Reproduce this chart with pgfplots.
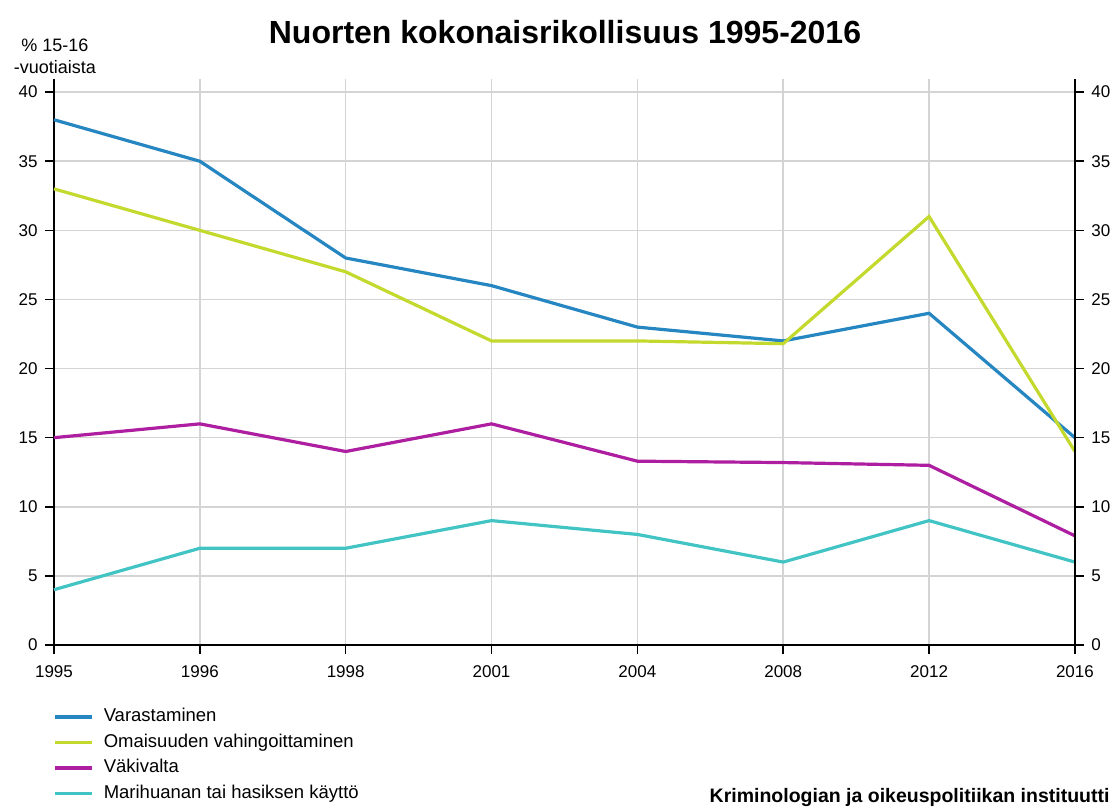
\documentclass[border=0pt]{standalone}
\usepackage{pgfplots}
\pgfplotsset{compat=1.18}
\usepackage{fontspec}
\setmainfont{Liberation Sans}
\definecolor{cblue}{RGB}{38,134,194}
\definecolor{cgreen}{RGB}{196,217,45}
\definecolor{cmag}{RGB}{174,30,160}
\definecolor{ccyan}{RGB}{66,196,196}
\begin{document}
\begin{tikzpicture}
\path[use as bounding box] (-54pt,-162pt) rectangle (1062pt,645pt);
\pgfplotsset{
  base/.style={
    at={(0pt,0pt)}, anchor=south west,
    scale only axis, width=1021pt, height=566pt,
    xmin=0, xmax=7, ymin=0, ymax=40.95,
    ytick={0,5,...,40},
    axis line style={line width=2pt, -},
    tick align=outside, major tick length=9pt,
    tick style={line width=1.5pt, black},
    ticklabel style={font=\fontsize{17}{19}\selectfont},
    /pgf/number format/assume math mode=true,
    clip=false,
  }
}
\begin{axis}[base,
  xtick={0,...,7},
  xticklabels={1995,1996,1998,2001,2004,2008,2012,2016},
  xticklabel style={yshift=-8pt},
  yticklabel style={xshift=-4pt},
  grid=major, major grid style={draw=black!17, line width=1.5pt},
  axis x line*=bottom, axis y line*=left,
  legend cell align=left,
  legend style={at={(-0.001,-0.112)}, anchor=north west, draw=none, fill=none,
    inner sep=0pt, font=\fontsize{18.5}{20}\selectfont,
    nodes={inner sep=0pt, text height=13pt, text depth=4pt},
    row sep=8.5pt,
    /tikz/every odd column/.append style={column sep=10pt}},
  legend image code/.code={\draw[#1, line width=3.6pt] (0pt,0pt) -- (37pt,0pt);},
]
\addplot[cblue, line width=3.2pt] coordinates {(0,38) (1,35) (2,28) (3,26) (4,23) (5,22) (6,24) (7,15)};
\addlegendentry{Varastaminen}
\addplot[cgreen, line width=3.2pt] coordinates {(0,33) (1,30) (2,27) (3,22) (4,22) (5,21.8) (6,31) (7,14)};
\addlegendentry{Omaisuuden vahingoittaminen}
\addplot[cmag, line width=3.2pt] coordinates {(0,15) (1,16) (2,14) (3,16) (4,13.3) (5,13.2) (6,13) (7,7.9)};
\addlegendentry{Väkivalta}
\addplot[ccyan, line width=3.2pt] coordinates {(0,4) (1,7) (2,7) (3,9) (4,8) (5,6) (6,9) (7,6)};
\addlegendentry{Marihuanan tai hasiksen käyttö}
\end{axis}
\begin{axis}[base,
  axis y line*=right, hide x axis,
  xtick=\empty,
  yticklabel style={xshift=4pt},
]
\addplot[draw=none] coordinates {(0,0)};
\end{axis}
\node[font=\bfseries\fontsize{32}{36}\selectfont] at (511pt,613pt) {Nuorten kokonaisrikollisuus 1995-2016};
\node[font=\fontsize{18}{22}\selectfont, align=center] at (1pt,589pt) {\% 15-16\\-vuotiaista};
\node[font=\bfseries\fontsize{19.5}{22}\selectfont, anchor=base east] at (1059pt,-157pt) {Kriminologian ja oikeuspolitiikan instituutti};
\end{tikzpicture}
\end{document}
